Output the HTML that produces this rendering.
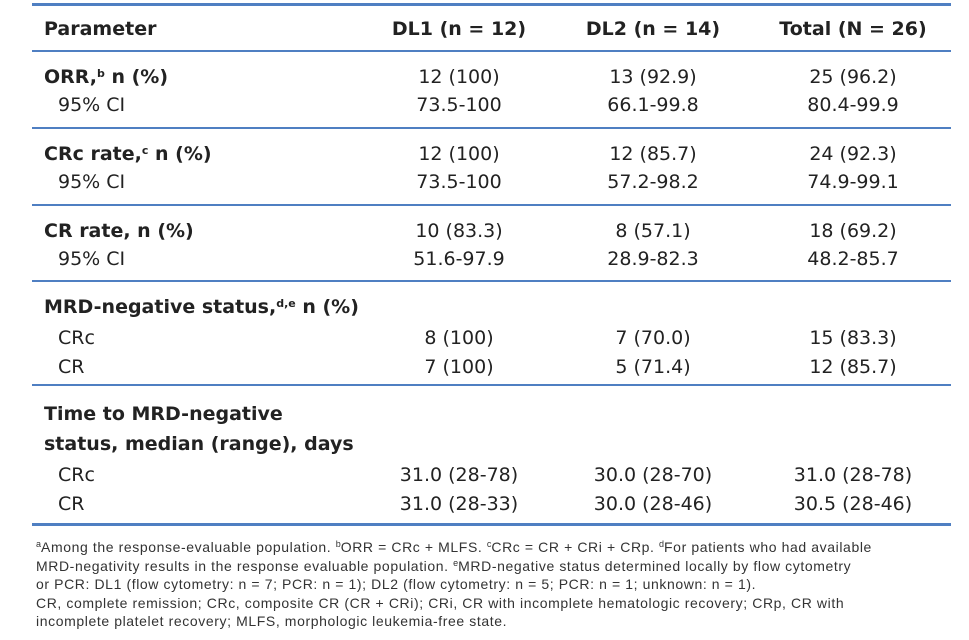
<!DOCTYPE html>
<html><head><meta charset="utf-8"><style>
body{margin:0;width:969px;height:640px;background:#fff;position:relative;overflow:hidden;font-family:"DejaVu Sans","Liberation Sans",sans-serif;color:#222}
.l{position:absolute;left:32px;width:919px;height:3px;background:#4f7fc2}
.t{position:absolute;font-size:19px;line-height:24px;white-space:nowrap;transform:translateY(-12px)}
.c{text-align:center;width:200px}
b{font-weight:bold}
sup{font-size:11px;vertical-align:6px;line-height:0}
.f{position:absolute;left:36px;font-size:14px;letter-spacing:0.6px;line-height:18.5px;top:538px;width:930px;white-space:nowrap;font-family:"Liberation Sans",sans-serif;color:#333}
.f sup{font-size:9px;vertical-align:5px;letter-spacing:0}
</style></head><body>
<div class="l" style="top:3px"></div>
<div class="l" style="top:50px;height:2px"></div>
<div class="l" style="top:127px;height:2px"></div>
<div class="l" style="top:204px;height:2px"></div>
<div class="l" style="top:280px;height:2px"></div>
<div class="l" style="top:384px;height:2px"></div>
<div class="l" style="top:523px"></div>

<div class="t" style="left:44px;top:29px"><b>Parameter</b></div>
<div class="t c" style="left:359px;top:29px"><b>DL1 (n = 12)</b></div>
<div class="t c" style="left:553px;top:29px"><b>DL2 (n = 14)</b></div>
<div class="t c" style="left:753px;top:29px"><b>Total (N = 26)</b></div>

<div class="t" style="left:44px;top:77px"><b>ORR,<sup>b</sup> n (%)</b></div>
<div class="t c" style="left:359px;top:77px">12 (100)</div>
<div class="t c" style="left:553px;top:77px">13 (92.9)</div>
<div class="t c" style="left:753px;top:77px">25 (96.2)</div>
<div class="t" style="left:58px;top:105px">95% CI</div>
<div class="t c" style="left:359px;top:105px">73.5-100</div>
<div class="t c" style="left:553px;top:105px">66.1-99.8</div>
<div class="t c" style="left:753px;top:105px">80.4-99.9</div>

<div class="t" style="left:44px;top:154px"><b>CRc rate,<sup>c</sup> n (%)</b></div>
<div class="t c" style="left:359px;top:154px">12 (100)</div>
<div class="t c" style="left:553px;top:154px">12 (85.7)</div>
<div class="t c" style="left:753px;top:154px">24 (92.3)</div>
<div class="t" style="left:58px;top:182px">95% CI</div>
<div class="t c" style="left:359px;top:182px">73.5-100</div>
<div class="t c" style="left:553px;top:182px">57.2-98.2</div>
<div class="t c" style="left:753px;top:182px">74.9-99.1</div>

<div class="t" style="left:44px;top:231px"><b>CR rate, n (%)</b></div>
<div class="t c" style="left:359px;top:231px">10 (83.3)</div>
<div class="t c" style="left:553px;top:231px">8 (57.1)</div>
<div class="t c" style="left:753px;top:231px">18 (69.2)</div>
<div class="t" style="left:58px;top:259px">95% CI</div>
<div class="t c" style="left:359px;top:259px">51.6-97.9</div>
<div class="t c" style="left:553px;top:259px">28.9-82.3</div>
<div class="t c" style="left:753px;top:259px">48.2-85.7</div>

<div class="t" style="left:44px;top:307px"><b>MRD-negative status,<sup>d,e</sup> n (%)</b></div>
<div class="t" style="left:58px;top:338px">CRc</div>
<div class="t c" style="left:359px;top:338px">8 (100)</div>
<div class="t c" style="left:553px;top:338px">7 (70.0)</div>
<div class="t c" style="left:753px;top:338px">15 (83.3)</div>
<div class="t" style="left:58px;top:367px">CR</div>
<div class="t c" style="left:359px;top:367px">7 (100)</div>
<div class="t c" style="left:553px;top:367px">5 (71.4)</div>
<div class="t c" style="left:753px;top:367px">12 (85.7)</div>

<div class="t" style="left:44px;top:414px"><b>Time to MRD-negative</b></div>
<div class="t" style="left:44px;top:444px"><b>status, median (range), days</b></div>
<div class="t" style="left:58px;top:475px">CRc</div>
<div class="t c" style="left:359px;top:475px">31.0 (28-78)</div>
<div class="t c" style="left:553px;top:475px">30.0 (28-70)</div>
<div class="t c" style="left:753px;top:475px">31.0 (28-78)</div>
<div class="t" style="left:58px;top:504px">CR</div>
<div class="t c" style="left:359px;top:504px">31.0 (28-33)</div>
<div class="t c" style="left:553px;top:504px">30.0 (28-46)</div>
<div class="t c" style="left:753px;top:504px">30.5 (28-46)</div>

<div class="f"><sup>a</sup>Among the response-evaluable population. <sup>b</sup>ORR = CRc + MLFS. <sup>c</sup>CRc = CR + CRi + CRp. <sup>d</sup>For patients who had available<br>MRD-negativity results in the response evaluable population. <sup>e</sup>MRD-negative status determined locally by flow cytometry<br>or PCR: DL1 (flow cytometry: n = 7; PCR: n = 1); DL2 (flow cytometry: n = 5; PCR: n = 1; unknown: n = 1).<br>CR, complete remission; CRc, composite CR (CR + CRi); CRi, CR with incomplete hematologic recovery; CRp, CR with<br>incomplete platelet recovery; MLFS, morphologic leukemia-free state.</div>
</body></html>
